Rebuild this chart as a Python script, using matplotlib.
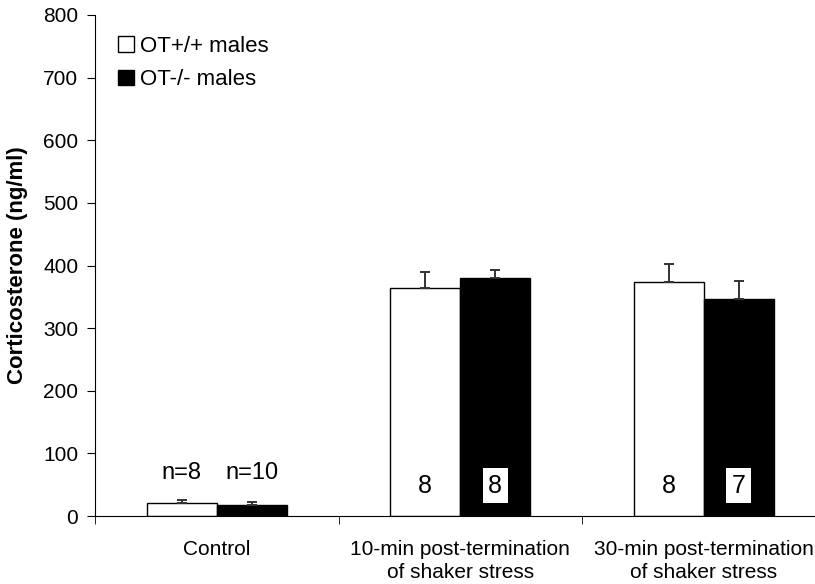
import numpy as np
import matplotlib
matplotlib.use("Agg")
import matplotlib.pyplot as plt

plt.rcParams['font.family'] = ['Liberation Sans', 'DejaVu Sans']

categories = ["Control", "10-min post-termination\nof shaker stress",
              "30-min post-termination\nof shaker stress"]
wt_means = [20, 364, 374]
wt_err = [5, 26, 29]
ko_means = [18, 380, 347]
ko_err = [4, 13, 29]
wt_n = ["n=8", "8", "8"]
ko_n = ["n=10", "8", "7"]

fig = plt.figure(figsize=(8.15, 5.84), dpi=100)
ax = fig.add_axes([95 / 815, 1 - 516 / 584, 3 * 243.5 / 815, 501 / 584])

x = np.arange(len(categories)) + 0.5
w = 0.287

ax.bar(x - w / 2, wt_means, w, color="white", edgecolor="black", linewidth=1,
       label="OT+/+ males", zorder=2)
ax.bar(x + w / 2, ko_means, w, color="black", edgecolor="black", linewidth=1,
       label="OT-/- males", zorder=2)
ax.errorbar(x - w / 2, wt_means, yerr=[np.zeros(3), wt_err], fmt="none",
            ecolor="#333333", elinewidth=1.4, capsize=3.6, capthick=1.4, zorder=3)
ax.errorbar(x + w / 2, ko_means, yerr=[np.zeros(3), ko_err], fmt="none",
            ecolor="#333333", elinewidth=1.4, capsize=3.6, capthick=1.4, zorder=3)

# n labels: above the control bars, inside the stress bars
for i in range(len(categories)):
    if i == 0:
        ax.text(x[i] - w / 2, 69, wt_n[i], ha="center", va="center", fontsize=17)
        ax.text(x[i] + w / 2, 69, ko_n[i], ha="center", va="center", fontsize=17)
    else:
        ax.text(x[i] - w / 2, 48, wt_n[i], ha="center", va="center", fontsize=18)
        ax.text(x[i] + w / 2, 48, ko_n[i], ha="center", va="center", fontsize=18,
                bbox=dict(facecolor="white", edgecolor="none", pad=4))

ax.set_xlim(0, 3)
ax.set_ylim(0, 800)
ax.set_yticks(np.arange(0, 801, 100))
ax.set_xticks(x)
ax.set_xticklabels(categories, fontsize=15, linespacing=1.3)
ax.set_xticks([0, 1, 2, 3], minor=True)
ax.tick_params(axis="x", which="major", length=0, pad=17)
ax.tick_params(axis="x", which="minor", length=6, direction="out")
ax.tick_params(axis="y", length=6, direction="out", labelsize=15, pad=6)
for s in ["top", "right"]:
    ax.spines[s].set_visible(False)
ax.set_ylabel("Corticosterone (ng/ml)", fontsize=16, fontweight="bold", labelpad=11)

ax.legend(loc="upper left", bbox_to_anchor=(0.0315, 0.958), frameon=False, fontsize=16,
          handlelength=0.7, handleheight=0.7, handletextpad=0.3, labelspacing=0.55,
          borderaxespad=0, borderpad=0)

fig.savefig("out.png", dpi=100)
